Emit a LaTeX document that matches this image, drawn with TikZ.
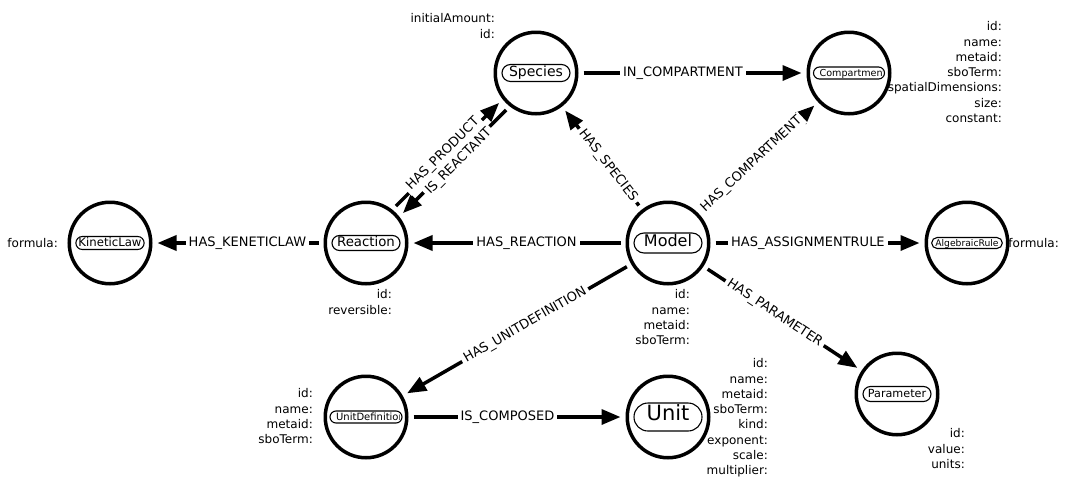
\documentclass[tikz,border=0pt]{standalone}
\usepackage{fontspec}
\setmainfont{DejaVu Sans}
\usetikzlibrary{arrows.meta,shapes.misc,backgrounds,calc}

\tikzset{
  entity/.style={circle, draw, line width=3.5pt, minimum size=81.5pt,
    inner sep=0pt, outer sep=6.75pt},
  tag/.style={rounded rectangle, draw, line width=1.1pt, minimum width=68pt,
    inner xsep=0pt, inner ysep=0pt, text height=0.85em, text depth=0.19em},
  tagtext/.style={inner sep=0pt, text height=0.85em, text depth=0.19em},
  rel/.style={line width=3.5pt, -{Triangle[length=19pt,width=15pt]}},
  rellabel/.style={sloped, fill=white, inner xsep=3pt, inner ysep=1pt,
    font=\fontsize{13}{15}\selectfont},
  props/.style={align=right, inner sep=0pt, anchor=north east,
    font=\fontsize{12}{15.3}\selectfont},
}

\begin{document}
\begin{tikzpicture}[x=1pt, y=-1pt]
\useasboundingbox (0,0) rectangle (1066,477);
\clip (0,0) rectangle (1066,477);

% entities
\node[entity] (spc) at (536,73) {};
\node[entity] (cmp) at (849,73) {};
\node[entity] (kin) at (110,243) {};
\node[entity] (rxn) at (366,243) {};
\node[entity] (mdl) at (668,243) {};
\node[entity] (alg) at (967,243) {};
\node[entity] (udf) at (366,417) {};
\node[entity] (unt) at (668,417) {};
\node[entity] (par) at (897,394) {};

% relationships, kept below the circles
\begin{scope}[on background layer]
  \draw[rel] (spc) -- (cmp) node[rellabel, pos=0.456] (l-incmp) {IN\_COMPARTMENT};
  \draw[rel] (mdl) -- (cmp) node[rellabel, pos=0.438] (l-hascmp) {HAS\_COMPARTMENT};
  \draw[rel] (mdl) -- (spc) node[rellabel, pos=0.42] (l-hasspc) {HAS\_SPECIES};
  \draw[rel] (rxn) -- (kin) node[rellabel, pos=0.441] (l-haskin) {HAS\_KENETICLAW};
  \draw[rel] (mdl) -- (rxn) node[rellabel, pos=0.454] (l-hasrxn) {HAS\_REACTION};
  \draw[rel] (mdl) -- (alg) node[rellabel, pos=0.453] (l-hasalg) {HAS\_ASSIGNMENTRULE};
  \draw[rel] (mdl) -- (udf) node[rellabel, pos=0.4625] (l-hasudf) {HAS\_UNITDEFINITION};
  \draw[rel] (mdl) -- (par) node[rellabel, pos=0.447] (l-haspar) {HAS\_PARAMETER};
  \draw[rel] (udf) -- (unt) node[rellabel, pos=0.454] (l-iscomp) {IS\_COMPOSED};
  % the two parallel relationships between Reaction and Species
  \draw[rel] (rxn.51) -- (spc.219);
  \draw[rel] (spc.231) -- (rxn.39);
  \path (rxn.55) -- (spc.215) node[rellabel, pos=0.48] (l-prod) {HAS\_PRODUCT};
  \path (spc.235) -- (rxn.35) node[rellabel, pos=0.48] (l-react) {IS\_REACTANT};
\end{scope}

% captions inside the circles
\node[tag, minimum height=17pt, font=\fontsize{14}{14}\selectfont] (spc-tag) at (spc) {Species};
\node[tag, minimum height=20pt, font=\fontsize{16}{16}\selectfont] (mdl-tag) at (mdl) {Model};
\node[tag, minimum height=28pt, font=\fontsize{21}{21}\selectfont] (unt-tag) at (unt) {Unit};
\node[tag, minimum height=15pt, font=\fontsize{13.3}{13.3}\selectfont] (rxn-tag) at (rxn) {Reaction};
\node[tag, minimum height=13pt, font=\fontsize{11.7}{11.7}\selectfont] (kin-tag) at (kin) {KineticLaw};
\node[tag, minimum height=15pt, font=\fontsize{11.2}{11.2}\selectfont] (par-tag) at (par) {Parameter};
\node[tag, minimum height=11pt, font=\fontsize{9.2}{9.2}\selectfont] (alg-tag) at (alg) {AlgebraicRule};
\node[tag, minimum height=12pt, minimum width=71pt] (cmp-tag) at (cmp) {};
\begin{scope}
  \clip ($(cmp-tag.west)+(4,-8)$) rectangle ($(cmp-tag.east)+(-3,8)$);
  \node[tagtext, anchor=west, font=\fontsize{9.6}{9.6}\selectfont] (cmp-text)
    at ($(cmp-tag.west)+(6.5,0)$) {Compartment};
\end{scope}
\node[tag, minimum height=12pt, minimum width=72pt] (udf-tag) at (udf) {};
\begin{scope}
  \clip ($(udf-tag.west)+(4,-8)$) rectangle ($(udf-tag.east)+(-3,8)$);
  \node[tagtext, anchor=west, font=\fontsize{10}{10}\selectfont] (udf-text)
    at ($(udf-tag.west)+(6.5,0)$) {UnitDefinition};
\end{scope}

% property lists
\node[props] (spc-props) at (495,13.4) {initialAmount:\\id:};
\node[props] (cmp-props) at (1002,21.4) {id:\\name:\\metaid:\\sboTerm:\\spatialDimensions:\\size:\\constant:};
\node[props] (kin-props) at (58,238.4) {formula:};
\node[props] (rxn-props) at (392,289.4) {id:\\reversible:};
\node[props] (mdl-props) at (690,289.4) {id:\\name:\\metaid:\\sboTerm:};
\node[props] (alg-props) at (1059,238.4) {formula:};
\node[props] (udf-props) at (313,388.4) {id:\\name:\\metaid:\\sboTerm:};
\node[props] (unt-props) at (768,358.4) {id:\\name:\\metaid:\\sboTerm:\\kind:\\exponent:\\scale:\\multiplier:};
\node[props] (par-props) at (965,428.4) {id:\\value:\\units:};
\end{tikzpicture}
\end{document}
